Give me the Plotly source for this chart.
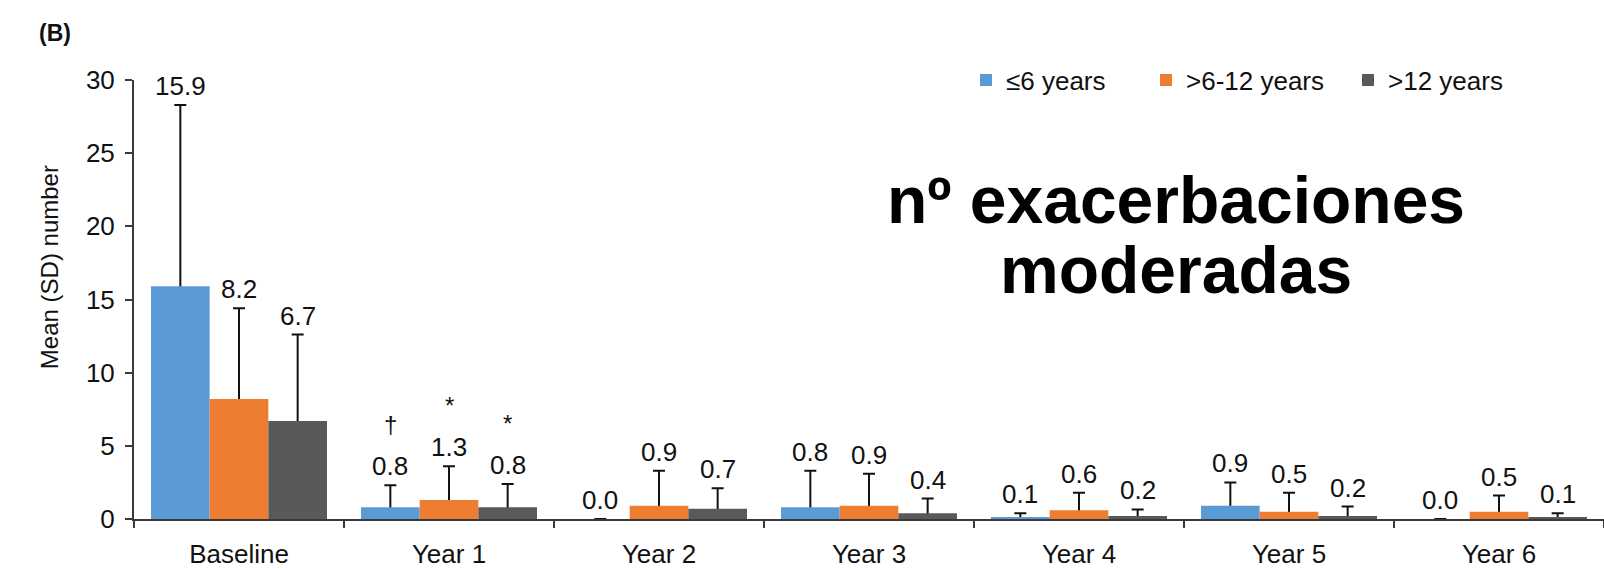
import plotly.graph_objects as go

# ---- data ----
categories = ["Baseline", "Year 1", "Year 2", "Year 3", "Year 4", "Year 5", "Year 6"]
series_names = ["≤6 years", ">6-12 years", ">12 years"]

mean_le6 = [15.9, 0.8, 0.0, 0.8, 0.1, 0.9, 0.0]
sd_le6 = [12.4, 1.5, 0.0, 2.5, 0.3, 1.6, 0.0]

mean_6_12 = [8.2, 1.3, 0.9, 0.9, 0.6, 0.5, 0.5]
sd_6_12 = [6.2, 2.3, 2.4, 2.2, 1.2, 1.3, 1.1]

mean_gt12 = [6.7, 0.8, 0.7, 0.4, 0.2, 0.2, 0.1]
sd_gt12 = [5.9, 1.6, 1.4, 1.0, 0.45, 0.65, 0.3]

sig_le6 = ["", "†", "", "", "", "", ""]
sig_6_12 = ["", "*", "", "", "", "", ""]
sig_gt12 = ["", "*", "", "", "", "", ""]

y_ticks = [0, 5, 10, 15, 20, 25, 30]

# ---- styling ----
colors = ["#5B9BD5", "#ED7D31", "#595959"]
FONT = "Liberation Sans, Arial, Helvetica, sans-serif"
W, H = 1604, 569
M_L, M_R, M_T, M_B = 134, 0, 80, 48
BARGAP = 0.162
AXIS_COLOR = "#3a3a3a"
TEXT_COLOR = "#111111"

means = [mean_le6, mean_6_12, mean_gt12]
sds = [sd_le6, sd_6_12, sd_gt12]
sigs = [sig_le6, sig_6_12, sig_gt12]

plot_w = W - M_L - M_R
plot_h = H - M_T - M_B


def px_to_paper_x(px):
    return (px - M_L) / plot_w


def px_to_paper_y(py):
    return (H - M_B - py) / plot_h


fig = go.Figure()

# Upward SD whiskers: drawn first from transparent bars, so the solid bars
# added afterwards hide the part of each whisker that falls inside the bar.
for k in range(3):
    fig.add_trace(go.Bar(
        x=categories, y=means[k], offsetgroup=str(k),
        marker=dict(color="rgba(0,0,0,0)", line=dict(width=0)),
        error_y=dict(type="data", array=sds[k], symmetric=True,
                     color=TEXT_COLOR, thickness=2, width=6),
        showlegend=False, hoverinfo="skip",
    ))

legend_ids = ["legend", "legend2", "legend3"]
for k in range(3):
    fig.add_trace(go.Bar(
        x=categories, y=means[k], offsetgroup=str(k), name=series_names[k],
        marker=dict(color=colors[k], line=dict(width=0)),
        legend=legend_ids[k],
    ))

# value labels above the whiskers, significance marks above those
bar_px = plot_w / len(categories) * (1 - BARGAP) / 3
for k in range(3):
    for i, cat in enumerate(categories):
        top = means[k][i] + sds[k][i]
        fig.add_annotation(
            x=cat, y=top, xref="x", yref="y",
            text=f"{means[k][i]:.1f}", showarrow=False,
            xanchor="center", yanchor="bottom",
            xshift=(k - 1) * bar_px, yshift=2,
            font=dict(family=FONT, size=26, color=TEXT_COLOR),
        )
        if sigs[k][i]:
            fig.add_annotation(
                x=cat, y=top, xref="x", yref="y",
                text=sigs[k][i], showarrow=False,
                xanchor="center", yanchor="bottom",
                xshift=(k - 1) * bar_px, yshift=45,
                font=dict(family=FONT, size=24, color=TEXT_COLOR),
            )

# panel letter
fig.add_annotation(
    x=px_to_paper_x(37), y=px_to_paper_y(33),
    xref="paper", yref="paper", text="<b>(B)</b>", showarrow=False,
    xanchor="left", yanchor="middle",
    font=dict(family=FONT, size=23, color=TEXT_COLOR),
)

# y-axis title
fig.add_annotation(
    x=px_to_paper_x(49), y=px_to_paper_y(268),
    xref="paper", yref="paper", text="Mean (SD) number", showarrow=False,
    textangle=-90, xanchor="center", yanchor="middle",
    font=dict(family=FONT, size=24, color=TEXT_COLOR),
)

# overlay caption, two centred lines
for line, yc in (("nº exacerbaciones", 201), ("moderadas", 271)):
    fig.add_annotation(
        x=px_to_paper_x(1176), y=px_to_paper_y(yc),
        xref="paper", yref="paper", text=f"<b>{line}</b>", showarrow=False,
        xanchor="center", yanchor="middle",
        font=dict(family=FONT, size=66, color="#000000"),
    )

legend_x = [966, 1146, 1348]
legend_common = dict(
    orientation="h", yref="paper", y=1.0, yanchor="middle", xanchor="left",
    bgcolor="rgba(0,0,0,0)", borderwidth=0,
    font=dict(family=FONT, size=26, color=TEXT_COLOR),
)

fig.update_layout(
    width=W, height=H,
    margin=dict(l=M_L, r=M_R, t=M_T, b=M_B, pad=0),
    paper_bgcolor="white", plot_bgcolor="white",
    barmode="group", bargap=BARGAP, bargroupgap=0,
    font=dict(family=FONT, size=26, color=TEXT_COLOR),
    legend=dict(x=px_to_paper_x(legend_x[0]), **legend_common),
    legend2=dict(x=px_to_paper_x(legend_x[1]), **legend_common),
    legend3=dict(x=px_to_paper_x(legend_x[2]), **legend_common),
    xaxis=dict(
        type="category", range=[-0.5, len(categories) - 0.5],
        showline=True, linecolor=AXIS_COLOR, linewidth=2,
        ticks="outside", tickson="boundaries", ticklen=7, tickwidth=2,
        tickcolor=AXIS_COLOR, showgrid=False, zeroline=False,
        ticklabelstandoff=11,
        tickfont=dict(family=FONT, size=26, color=TEXT_COLOR),
    ),
    yaxis=dict(
        range=[0, 30], tickvals=y_ticks,
        showline=True, linecolor=AXIS_COLOR, linewidth=2,
        ticks="outside", ticklen=7, tickwidth=2, tickcolor=AXIS_COLOR,
        showgrid=False, zeroline=False, ticklabelstandoff=5,
        tickfont=dict(family=FONT, size=26, color=TEXT_COLOR),
    ),
)

fig.write_html("out.html")
